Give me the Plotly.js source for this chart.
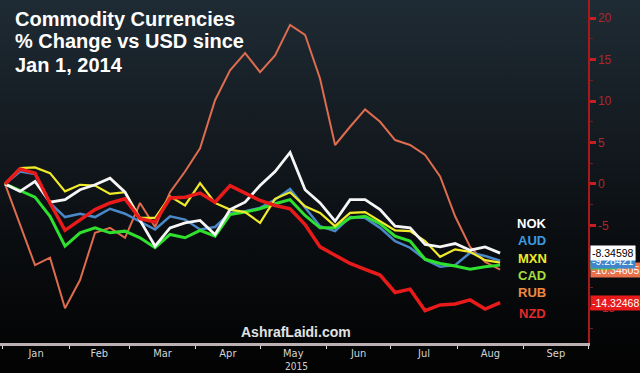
<!DOCTYPE html>
<html>
<head>
<meta charset="utf-8">
<script src="https://cdn.plot.ly/plotly-3.0.1.min.js"></script>
<style>
html,body{margin:0;padding:0;width:640px;height:373px;overflow:hidden;
background:linear-gradient(to bottom,#1f2b34 0%,#141b21 35%,#0a0d10 65%,#020202 100%);}
#chart{width:640px;height:373px;}
</style>
</head>
<body>
<div id="chart"></div>
<script>
// Weekly dates (Fridays), 2015
const dates = ['2015-01-02','2015-01-09','2015-01-16','2015-01-23','2015-01-30',
'2015-02-06','2015-02-13','2015-02-20','2015-02-27',
'2015-03-06','2015-03-13','2015-03-20','2015-03-27',
'2015-04-03','2015-04-10','2015-04-17','2015-04-24',
'2015-05-01','2015-05-08','2015-05-15','2015-05-22','2015-05-29',
'2015-06-05','2015-06-12','2015-06-19','2015-06-26',
'2015-07-03','2015-07-10','2015-07-17','2015-07-24','2015-07-31',
'2015-08-07','2015-08-14','2015-08-21'];

const seriesNames = ['RUB','AUD','CAD','MXN','NOK','NZD'];

const rub = [0,-5.0,-9.8,-8.9,-15.0,-11.6,-5.9,-5.3,-6.5,-2.3,-5.2,-1.0,1.5,4.3,10.1,13.7,15.8,13.5,15.5,19.2,18.0,12.7,4.7,6.9,9.0,7.5,5.3,4.7,3.5,0.9,-3.9,-7.6,-9.4,-10.35];
const aud = [0,1.5,1.2,-2.3,-4.0,-3.6,-4.0,-3.0,-3.6,-4.5,-5.5,-3.9,-4.3,-5.5,-5.2,-3.5,-3.3,-2.9,-1.9,-0.6,-2.9,-5.1,-5.7,-4.0,-4.1,-5.3,-6.9,-7.7,-9.1,-10.0,-9.8,-8.3,-8.7,-9.28];
const cad = [0,-0.8,-1.6,-3.9,-7.5,-5.9,-5.3,-5.9,-5.7,-6.5,-7.7,-6.1,-6.5,-5.6,-6.3,-3.7,-3.4,-3.0,-2.4,-1.9,-3.8,-5.3,-5.3,-4.1,-3.9,-4.8,-6.3,-6.9,-9.1,-9.6,-9.9,-10.3,-10.0,-9.8];
const mxn = [0,1.9,2.0,1.3,-0.9,-0.1,-0.2,-1.2,-1.0,-4.1,-4.1,-1.5,-2.6,0.1,-2.3,-3.1,-3.4,-4.7,-1.8,-1.0,-2.7,-3.5,-5.1,-3.5,-3.4,-4.5,-5.6,-5.7,-6.9,-8.8,-7.9,-8.2,-9.2,-9.5];
const nok = [0,-0.9,0.3,-2.2,-1.9,-0.7,-0.1,0.7,-1.0,-4.4,-7.5,-5.3,-4.7,-4.4,-6.1,-3.1,-2.2,-0.2,1.5,3.8,-0.7,-2.3,-4.5,-1.9,-1.9,-3.1,-5.1,-5.3,-7.3,-7.6,-7.2,-8.0,-7.6,-8.35];
const nzd = [0,1.8,1.3,-2.3,-5.6,-4.3,-3.1,-2.3,-1.8,-4.2,-4.6,-1.7,-1.6,-1.1,-2.2,-0.2,-1.1,-2.0,-2.6,-3.0,-4.9,-7.6,-8.6,-9.6,-10.3,-11.0,-13.1,-12.7,-15.3,-14.6,-14.5,-14.0,-15.1,-14.32];

const lastLabels = {RUB:'-10.34605', CAD:'-9.80000', AUD:'-9.28421', NOK:'-8.34598', NZD:'-14.32468'};
const boxOrder = ['RUB','CAD','AUD','NOK','NZD'];
const legendOrder = ['NOK','AUD','MXN','CAD','RUB','NZD'];
const yTickVals = [-15,-10,-5,0,5,10,15,20];
const yTickText = ['-15','-10','-5','0','5','10','15','20'];

const values = {RUB:rub, AUD:aud, CAD:cad, MXN:mxn, NOK:nok, NZD:nzd};
const lineColors = {RUB:'#de6c4e', AUD:'#4a88c8', CAD:'#2fe02f', MXN:'#f0ea2a', NOK:'#f6f6f6', NZD:'#e81a1a'};
const lineWidths = {RUB:2, AUD:2.5, CAD:3, MXN:2.2, NOK:2.8, NZD:3.5};
const labelColors = {NOK:'#ffffff', AUD:'#3d9ae0', MXN:'#eeea2a', CAD:'#a6dc3c', RUB:'#f08a40', NZD:'#e22a2a'};
const boxColors = {NOK:'#ffffff', AUD:'#3f86cc', CAD:'#3ccc3c', RUB:'#e8704a', NZD:'#e81a1a'};
const boxText = {NOK:'#000000', AUD:'#ffffff', CAD:'#3ccc3c', RUB:'#ffffff', NZD:'#ffffff'};
const boxFont = {NOK:10.5, AUD:10.5, CAD:6, RUB:10.5, NZD:10.5};

const PW = 588, PH = 343;
const px = x => x / PW;
const py = y => 1 - y / PH;

const traces = seriesNames.map(n => ({
  type:'scatter', mode:'lines', x:dates, y:values[n], name:n,
  line:{color:lineColors[n], width:lineWidths[n]}, hoverinfo:'skip'
}));

const ann = [];
const titleLines = ['Commodity Currencies','% Change vs USD since','Jan 1, 2014'];
const titleY = [19, 41.5, 65];
titleLines.forEach((t,i) => ann.push({
  xref:'paper', yref:'paper', x:px(13), y:py(titleY[i]), xanchor:'left', yanchor:'middle',
  text:t, showarrow:false, font:{family:'Liberation Sans, Arial, sans-serif', size:20, color:'#ffffff', weight:'bold'}
}));

const legY = [223, 240, 258, 275, 292, 313];
legendOrder.forEach((n,i) => ann.push({
  xref:'paper', yref:'paper', x:px(532), y:py(legY[i]), xanchor:'center', yanchor:'middle',
  text:'<b>'+n+'</b>', showarrow:false, font:{family:'Liberation Sans, Arial, sans-serif', size:13, color:labelColors[n]}
}));

ann.push({xref:'paper', yref:'paper', x:px(296), y:py(332), xanchor:'center', yanchor:'middle',
  text:'<b>AshrafLaidi.com</b>', showarrow:false, font:{family:'Liberation Sans, Arial, sans-serif', size:14, color:'#e2e2e2'}});

ann.push({xref:'paper', yref:'paper', x:px(296), y:py(366), xanchor:'center', yanchor:'middle',
  text:'2015', showarrow:false, font:{family:'Liberation Sans Narrow, DejaVu Sans Condensed, Arial', size:10, color:'#d0d0d0'}});

boxOrder.forEach(n => {
  const v = values[n];
  ann.push({xref:'paper', yref:'y', x:px(590), y:v[v.length-1], xanchor:'left', yanchor:'middle',
    text:lastLabels[n], showarrow:false, bgcolor:boxColors[n], borderpad:1,
    font:{family:'Liberation Sans, Arial, sans-serif', size:boxFont[n], color:boxText[n]}});
});

const layout = {
  width:640, height:373,
  margin:{l:0, r:52, t:0, b:30, pad:0},
  paper_bgcolor:'rgba(0,0,0,0)', plot_bgcolor:'rgba(0,0,0,0)',
  showlegend:false,
  xaxis:{type:'date', range:['2014-12-30 16:00','2015-10-01'], dtick:'M1', tick0:'2015-01-01',
    tickformat:'%b', ticklabelmode:'period', showgrid:false, zeroline:false,
    showline:true, linecolor:'#bcb0b2', linewidth:3,
    ticks:'outside', ticklen:3, tickcolor:'#dddddd', tickwidth:1, ticklabelstandoff:-5,
    tickfont:{family:'Liberation Sans Narrow, DejaVu Sans Condensed, Arial', size:11, color:'#d4d4d4'}},
  yaxis:{side:'right', range:[-19.2,22.2], tickvals:yTickVals, ticktext:yTickText,
    showgrid:false, zeroline:false, showline:true, linecolor:'#a8181c', linewidth:1.5,
    ticks:'outside', ticklen:6, tickwidth:3, tickcolor:'#c81e22',
    minor:{dtick:2.5, tick0:0, ticks:'outside', ticklen:3, tickwidth:1, tickcolor:'#7a1a1c'},
    tickfont:{family:'Liberation Sans, Arial, sans-serif', size:12, color:'#b0262a'}},
  annotations:ann
};

Plotly.newPlot('chart', traces, layout, {staticPlot:true, displayModeBar:false});
</script>
</body>
</html>
